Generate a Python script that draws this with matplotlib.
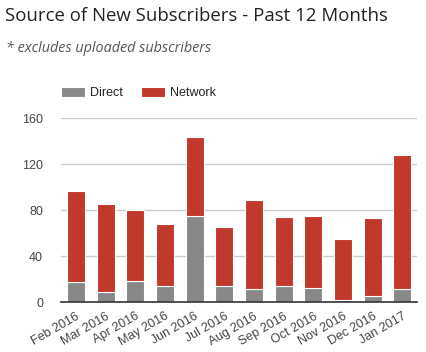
import matplotlib.pyplot as plt
import numpy as np

months = ['Feb 2016', 'Mar 2016', 'Apr 2016', 'May 2016', 'Jun 2016', 'Jul 2016',
          'Aug 2016', 'Sep 2016', 'Oct 2016', 'Nov 2016', 'Dec 2016', 'Jan 2017']
direct = [17, 9, 18, 14, 75, 14, 11, 14, 12, 2, 5, 11]
network = [80, 76, 62, 54, 69, 51, 78, 60, 63, 53, 68, 117]
yticks = [0, 40, 80, 120, 160]

gray = '#888888'
red = '#c0392b'

fig = plt.figure(figsize=(4.27, 3.52), dpi=100, facecolor='white')
ax = fig.add_axes([0.143, 0.142, 0.834, 0.522])

x = np.arange(len(months))
ax.bar(x, direct, width=0.61, color=gray, edgecolor='white', linewidth=0.8, zorder=3, label='Direct')
ax.bar(x, network, width=0.61, bottom=direct, color=red, edgecolor='white', linewidth=0.8, zorder=3, label='Network')

ax.set_xlim(-0.5, len(months) - 0.5)
ax.set_ylim(0, 160)
ax.set_yticks(yticks)
ax.grid(axis='y', color='#cccccc', linewidth=1, zorder=0)
for s in ['top', 'right', 'left']:
    ax.spines[s].set_visible(False)
ax.spines['bottom'].set_color('#333333')
ax.spines['bottom'].set_linewidth(1.2)
ax.spines['bottom'].set_zorder(4)

ax.set_xticks(x)
ax.set_xticklabels(months, rotation=30, ha='right', rotation_mode='anchor',
                   fontsize=9, color='#444444', family='Liberation Sans')
ax.tick_params(axis='x', length=0, pad=6)
ax.tick_params(axis='y', length=0, pad=13, labelsize=9, labelcolor='#444444')
for t in ax.get_yticklabels():
    t.set_family('Liberation Sans')

fig.text(0.012, 0.955, 'Source of New Subscribers - Past 12 Months', fontsize=13.4,
         family='Open Sans', color='#222222', va='center', ha='left')
fig.text(0.014, 0.862, '* excludes uploaded subscribers', fontsize=10.4, style='italic',
         family='Open Sans', color='#555555', va='center', ha='left')

leg = fig.legend(loc='center left', bbox_to_anchor=(61 / 427, 1 - 93 / 352), ncol=2, frameon=False,
                 prop={'family': 'Liberation Sans', 'size': 9}, handlelength=1.9, handleheight=0.95,
                 columnspacing=1.5, handletextpad=0.4, borderpad=0, borderaxespad=0)
for t in leg.get_texts():
    t.set_color('#222222')

fig.savefig('out.png', dpi=100)
